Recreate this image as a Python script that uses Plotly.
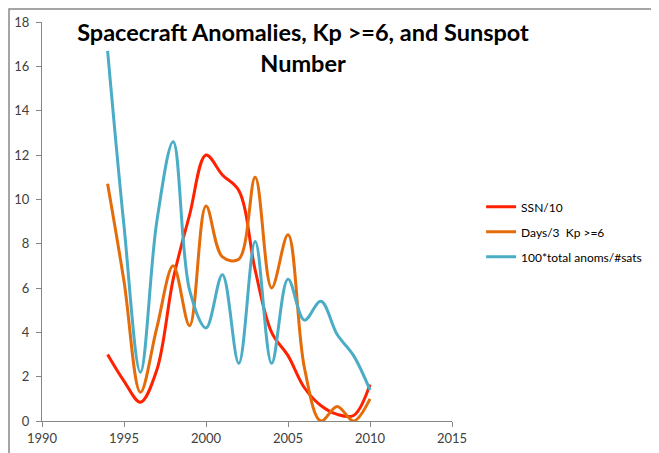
import plotly.graph_objects as go

years = list(range(1994, 2011))
ssn_10 = [3.0, 1.8, 0.85, 2.3, 6.4, 9.3, 12.0, 11.1, 10.4, 6.8, 4.0, 2.95, 1.5, 0.7, 0.3, 0.25, 1.65]
kp_days_3 = [10.7, 6.3, 1.3, 4.2, 7.0, 4.3, 9.7, 7.4, 7.3, 11.0, 6.0, 8.4, 2.4, 0.0, 0.65, 0.0, 1.0]
anoms_per_sat = [16.7, 8.8, 2.2, 9.0, 12.6, 5.9, 4.2, 6.6, 2.6, 8.1, 2.6, 6.4, 4.55, 5.4, 3.9, 2.95, 1.4]

series = [
    ("SSN/10", ssn_10, "#FF2200"),
    ("Days/3  Kp >=6", kp_days_3, "#E46C0A"),
    ("100*total anoms/#sats", anoms_per_sat, "#4BACC6"),
]

fig = go.Figure()
for i, (name, vals, color) in enumerate(series):
    fig.add_trace(go.Scatter(
        x=years, y=vals, name=name, mode="lines",
        line=dict(color=color, width=3, shape="spline", smoothing=1.0),
        legendgroup=f"g{i}",
    ))

axis_common = dict(
    showgrid=False, zeroline=False, showline=True, linecolor="#868686", linewidth=1,
    ticks="outside", ticklen=5, tickcolor="#868686", automargin=False,
    tickfont=dict(family="Lato", size=13, color="#404040"),
)

# page body has an 8px margin, so the figure is 8px smaller and shifted
W, H = 651, 445
fig.update_layout(
    width=W, height=H,
    margin=dict(l=34, r=207, t=14, b=32),
    paper_bgcolor="white", plot_bgcolor="white",
    font=dict(family="Lato"),
    title=dict(
        text="<b>Spacecraft Anomalies, Kp >=6, and Sunspot<br>Number</b>",
        font=dict(family="Lato", size=23.5, color="black"),
        x=295 / W, xref="container", xanchor="center",
        y=1 - 33 / H, yref="container", yanchor="top",
    ),
    xaxis=dict(range=[1990, 2015], dtick=5, tick0=1990, **axis_common),
    yaxis=dict(range=[0, 18], dtick=2, tick0=0, ticklabelstandoff=4, **axis_common),
    legend=dict(
        x=1.071, y=0.474, xanchor="left", yanchor="middle",
        font=dict(family="Lato", size=12, color="black"),
        tracegroupgap=6, bgcolor="rgba(0,0,0,0)",
    ),
    shapes=[dict(
        type="rect", xref="paper", yref="paper",
        x0=(1 - 34) / 410, x1=(700 - 34) / 410,
        y0=-(470 - 413) / 399, y1=1 + (14 - 1) / 399,
        line=dict(color="#888888", width=1.5), layer="below",
    )],
)

fig.write_html("out.html")
